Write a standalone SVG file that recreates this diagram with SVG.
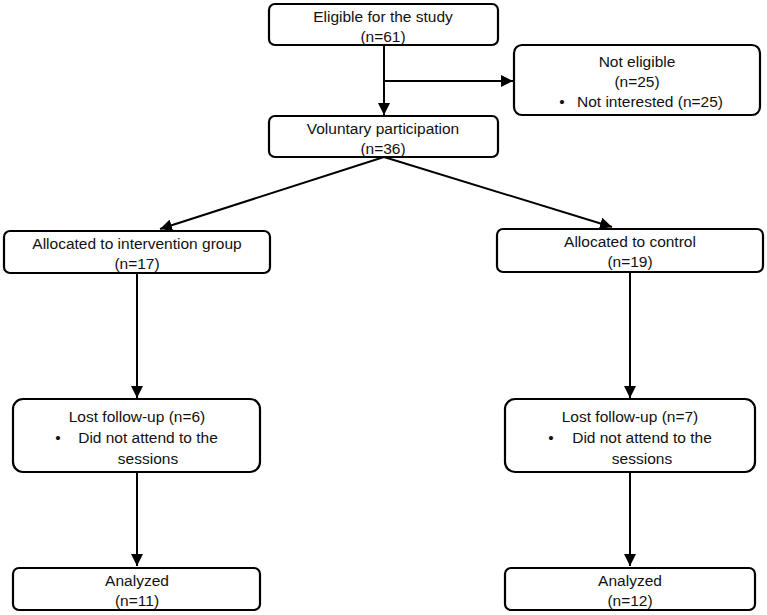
<svg xmlns="http://www.w3.org/2000/svg" width="767" height="615" viewBox="0 0 767 615">
<style>
.box{fill:#fff;stroke:#000;stroke-width:2.2}
.t{font-family:"Liberation Sans",Arial,sans-serif;font-size:15.5px;fill:#111;text-anchor:middle}
.ln{stroke:#000;stroke-width:2;fill:none}
</style>
<defs>
<marker id="ah" viewBox="0 0 10 10" refX="10" refY="5" markerWidth="6" markerHeight="6" orient="auto" markerUnits="strokeWidth">
<path d="M0,0 L10,5 L0,10 z" fill="#000"/>
</marker>
</defs>
<rect width="767" height="615" fill="#fff"/>
<g id="connectors">
<line class="ln" x1="384" y1="46" x2="384" y2="115" marker-end="url(#ah)"/>
<line class="ln" x1="384" y1="81" x2="513" y2="81" marker-end="url(#ah)"/>
<line class="ln" x1="384" y1="157" x2="160" y2="229" marker-end="url(#ah)"/>
<line class="ln" x1="384" y1="157" x2="612" y2="227" marker-end="url(#ah)"/>
<line class="ln" x1="137" y1="273" x2="137" y2="398" marker-end="url(#ah)"/>
<line class="ln" x1="630" y1="272" x2="630" y2="398" marker-end="url(#ah)"/>
<line class="ln" x1="137" y1="472" x2="137" y2="566" marker-end="url(#ah)"/>
<line class="ln" x1="630" y1="472" x2="630" y2="566" marker-end="url(#ah)"/>
</g>
<g id="eligible">
<rect class="box" x="269" y="4" width="229" height="41" rx="6"/>
<text class="t" x="383" y="22">Eligible for the study</text>
<text class="t" x="383" y="42">(n=61)</text>
</g>
<g id="not-eligible">
<rect class="box" x="514" y="45" width="246" height="70" rx="8"/>
<text class="t" x="637" y="67">Not eligible</text>
<text class="t" x="637" y="87">(n=25)</text>
<text class="t" x="562" y="107">•</text>
<text class="t" x="650" y="107">Not interested (n=25)</text>
</g>
<g id="voluntary">
<rect class="box" x="269" y="116" width="229" height="41" rx="6"/>
<text class="t" x="383" y="134">Voluntary participation</text>
<text class="t" x="383" y="154">(n=36)</text>
</g>
<g id="intervention">
<rect class="box" x="4" y="231" width="266" height="42" rx="6"/>
<text class="t" x="137" y="249">Allocated to intervention group</text>
<text class="t" x="137" y="269">(n=17)</text>
</g>
<g id="control">
<rect class="box" x="497" y="229" width="266" height="43" rx="6"/>
<text class="t" x="630" y="247">Allocated to control</text>
<text class="t" x="630" y="267">(n=19)</text>
</g>
<g id="lost-left">
<rect class="box" x="13" y="399" width="247" height="73" rx="10"/>
<text class="t" x="137" y="422">Lost follow-up (n=6)</text>
<text class="t" x="58" y="443">•</text>
<text class="t" x="148" y="443">Did not attend to the</text>
<text class="t" x="148" y="464">sessions</text>
</g>
<g id="lost-right">
<rect class="box" x="505" y="399" width="250" height="73" rx="10"/>
<text class="t" x="630" y="422">Lost follow-up (n=7)</text>
<text class="t" x="551" y="443">•</text>
<text class="t" x="642" y="443">Did not attend to the</text>
<text class="t" x="642" y="464">sessions</text>
</g>
<g id="analyzed-left">
<rect class="box" x="13" y="568" width="247" height="42" rx="6"/>
<text class="t" x="137" y="586">Analyzed</text>
<text class="t" x="137" y="606">(n=11)</text>
</g>
<g id="analyzed-right">
<rect class="box" x="505" y="568" width="250" height="42" rx="6"/>
<text class="t" x="630" y="586">Analyzed</text>
<text class="t" x="630" y="606">(n=12)</text>
</g>
</svg>
